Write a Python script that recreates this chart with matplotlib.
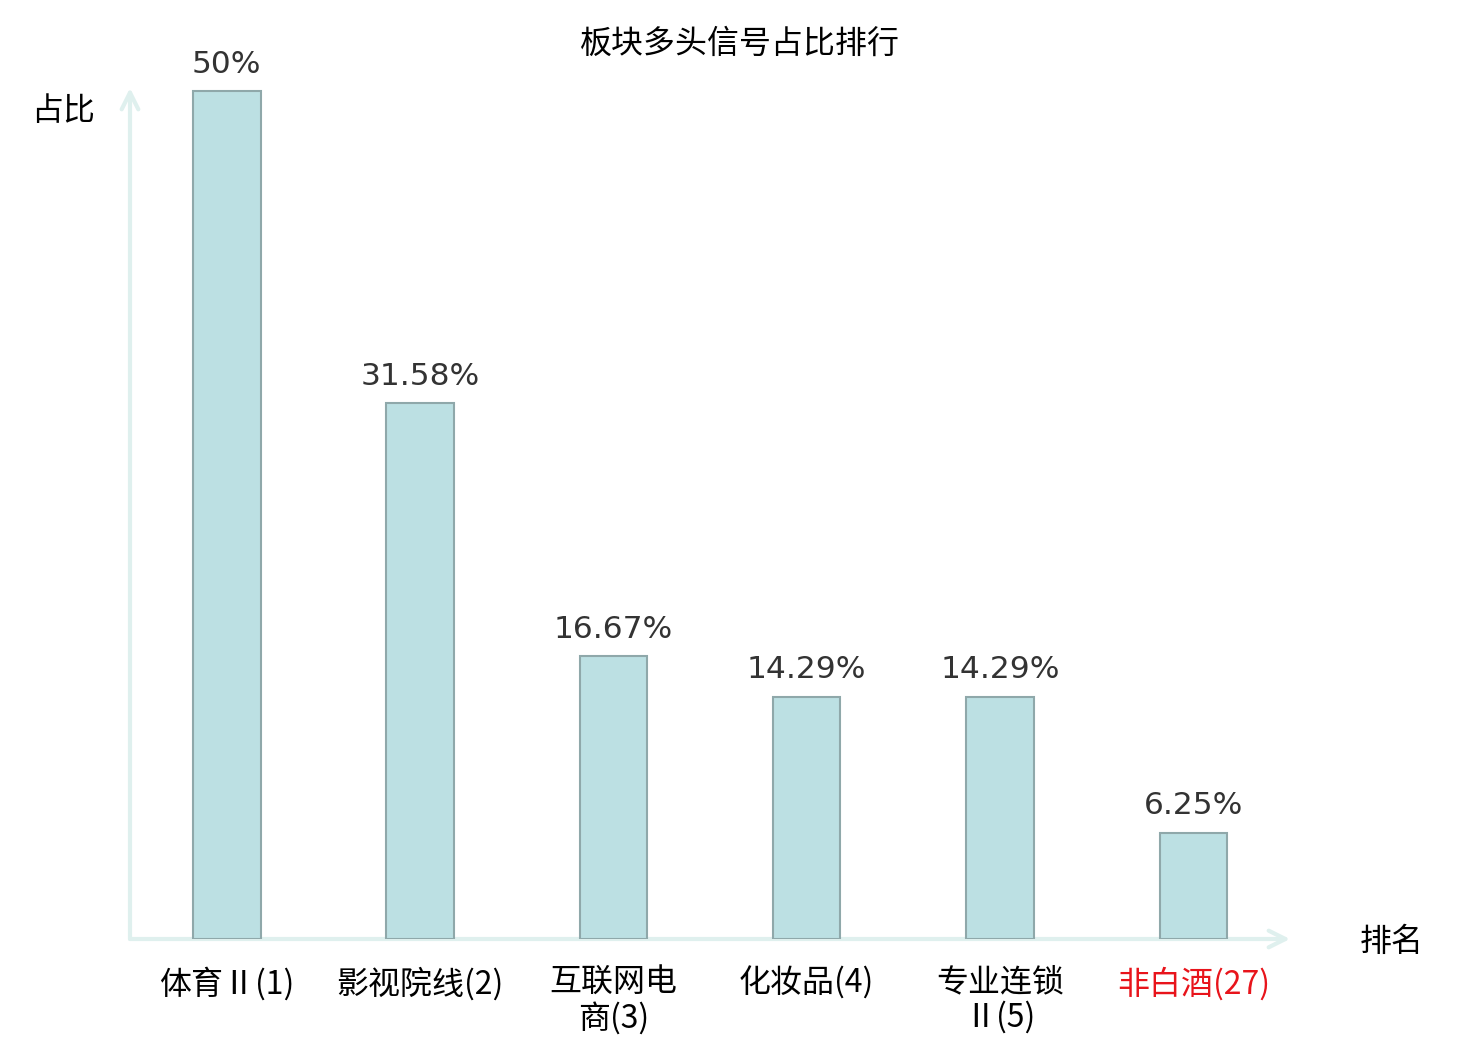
import matplotlib
matplotlib.use('Agg')
import matplotlib.pyplot as plt

plt.rcParams['font.family'] = ['Noto Sans CJK SC', 'DejaVu Sans']

# data
categories = ['体育Ⅱ(1)', '影视院线(2)', '互联网电\n商(3)', '化妆品(4)', '专业连锁\nⅡ(5)', '非白酒(27)']
values = [50, 31.58, 16.67, 14.29, 14.29, 6.25]
value_labels = ['50%', '31.58%', '16.67%', '14.29%', '14.29%', '6.25%']
label_colors = ['black', 'black', 'black', 'black', 'black', '#e8141b']

W, H = 1480, 1040
fig = plt.figure(figsize=(W / 100, H / 100), dpi=100)
ax_left, ax_right, ax_bottom, ax_top = 130, 1290, 939, 88
ax = fig.add_axes([ax_left / W, (H - ax_bottom) / H,
                   (ax_right - ax_left) / W, (ax_bottom - ax_top) / H])

x = list(range(len(categories)))
ax.bar(x, values, width=0.35, color='#bce0e3', edgecolor='#8fa8aa', linewidth=1.5, zorder=3)

ax.set_xlim(-0.5, 5.5)
ax.set_ylim(0, 50 * (ax_bottom - ax_top) / 848)

for xi, v, lab in zip(x, values, value_labels):
    ax.annotate(lab, (xi, v), xytext=(0, 9), textcoords='offset points',
                ha='center', va='bottom', fontsize=22.5, color='#333333',
                family='DejaVu Sans')

for s in ax.spines.values():
    s.set_visible(False)
ax.set_xticks(x)
ax.set_xticklabels(categories, fontsize=23, linespacing=1.1)
for t, c in zip(ax.get_xticklabels(), label_colors):
    t.set_color(c)
ax.tick_params(axis='x', length=0, pad=20)
ax.set_yticks([])

axis_color = '#dff0ee'
ax.annotate('', xy=(1.0, 0), xytext=(0, 0), xycoords='axes fraction',
            arrowprops=dict(arrowstyle='->', color=axis_color, lw=3, mutation_scale=30,
                            shrinkA=0, shrinkB=0), zorder=2)
ax.annotate('', xy=(0, 1.0), xytext=(0, 0), xycoords='axes fraction',
            arrowprops=dict(arrowstyle='->', color=axis_color, lw=3, mutation_scale=30,
                            shrinkA=0, shrinkB=0), zorder=2)

fig.text(63 / W, 1 - 111 / H, '占比', fontsize=23, ha='center', va='center')
fig.text(1392 / W, 1 - 942 / H, '排名', fontsize=23, ha='center', va='center')
fig.text(740 / W, 1 - 44 / H, '板块多头信号占比排行', fontsize=23, ha='center', va='center')

fig.savefig('out.png', dpi=100)
